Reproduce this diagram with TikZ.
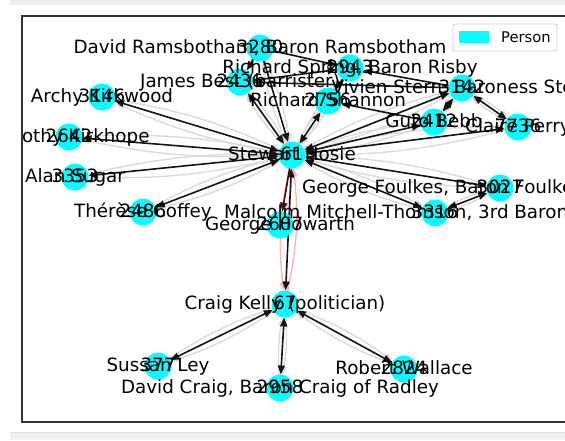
\documentclass[tikz,border=0pt]{standalone}
\usepackage{fontspec}
\setmainfont{DejaVu Sans}
\usetikzlibrary{arrows.meta}
\definecolor{nodecyan}{RGB}{0,255,255}
\definecolor{darkred}{RGB}{70,10,10}
\pgfdeclarelayer{bg}
\pgfdeclarelayer{edges}
\pgfsetlayers{bg,edges,main}
\begin{document}
\begin{tikzpicture}[x=1pt,y=-1pt,
  person/.style={circle,fill=nodecyan,minimum size=27pt,inner sep=0pt,outer sep=0pt},
  lbl/.style={font=\fontsize{18.3}{20}\selectfont,inner sep=0pt,text height=13.5pt,text depth=3.5pt,anchor=center},
  bb/.style={draw=black!92,line width=1.6pt,{Triangle[length=9pt,width=7pt]}-{Triangle[length=9pt,width=7pt]}},
  b1/.style={draw=black!92,line width=1.6pt,-{Triangle[length=9pt,width=7pt]}},
  gr/.style={draw=black!14,line width=1.4pt,-{Triangle[length=8pt,width=6pt]}},
  pk/.style={draw=red!30,line width=1.3pt,-{Triangle[length=8pt,width=6pt]}}]
\useasboundingbox (0,0) rectangle (565,440);
\begin{pgfonlayer}{bg}
\fill[white] (0,0) rectangle (565,440);
\fill[black!6] (10,0) rectangle (565,5);
\fill[black!6] (10,433) rectangle (565,440);
\draw[black!12,line width=0.8pt] (10,432.5) -- (565,432.5);
\end{pgfonlayer}
% nodes
\node[person] (n61) at (292,155) {};
\node[person] (n3280) at (260,48) {};
\node[person] (n2943) at (350,68) {};
\node[person] (n2436) at (240,82) {};
\node[person] (n2756) at (328,101) {};
\node[person] (n3142) at (462,88) {};
\node[person] (n2412) at (434,122) {};
\node[person] (n7736) at (518,127) {};
\node[person] (n3146) at (102,97) {};
\node[person] (n2642) at (69,137) {};
\node[person] (n3353) at (75,177) {};
\node[person] (n2486) at (143,212) {};
\node[person] (n2607) at (280,225) {};
\node[person] (n3316) at (435,213) {};
\node[person] (n3027) at (500,188) {};
\node[person] (n67) at (285,304) {};
\node[person] (n377) at (158,366) {};
\node[person] (n2958) at (280,388) {};
\node[person] (n2824) at (404,369) {};
% edges
\begin{pgfonlayer}{edges}
\foreach \a/\b in {61/3146,61/2642,61/3353,61/2486,61/2436,61/2756,61/3142,61/2412,61/7736,61/3027,61/3316,67/377,67/2958,67/2824,3316/3027,3142/7736,3142/2412,61/3280,61/2943}{
  \draw[gr] (n\a) to[bend left=7] (n\b);
  \draw[gr] (n\b) to[bend left=7] (n\a);
}
\draw[gr] (n61) to[bend left=10] (n2607);
\draw[pk] (n61) to[bend right=9] (n67);
\draw[pk] (n67) to[bend right=9] (n61);
\foreach \a/\b in {61/3146,61/2642,61/3353,61/2486,61/2436,61/2756,61/3142,61/2412,61/7736,61/3027,61/3316,61/67,67/377,67/2958,67/2824,3316/3027,3142/7736,3142/2412}{
  \draw[bb] (n\a) -- (n\b);
}
\foreach \a/\b in {3280/61,3142/2943,3280/2943,2436/2943,2943/2756,2412/2756,3142/2436,3280/2436}{
  \draw[b1] (n\a) -- (n\b);
}
\draw[b1,draw=darkred] (n61) -- (n2607);
\end{pgfonlayer}
% frame
\draw[black!80,line width=1.3pt] (22,16) rectangle (585,422);
% labels
\begin{scope}
\clip (22,16) rectangle (585,422);
\foreach \n/\t in {61/Stewart Hosie,3280/{David Ramsbotham, Baron Ramsbotham},2943/{Richard Spring, Baron Risby},2436/James Best (barrister),2756/Richard Shannon,3142/{Vivien Stern, Baroness Stern},2412/Guto Bebb,7736/Claire Perry,3146/Archy Kirkwood,2642/Timothy Kirkhope,3353/Alan Sugar,2486/Thérèse Coffey,2607/George Howarth,3316/{Malcolm Mitchell-Thomson, 3rd Baron Selsdon},3027/{George Foulkes, Baron Foulkes of Cumnock},67/Craig Kelly (politician),377/Sussan Ley,2958/{David Craig, Baron Craig of Radley},2824/Robert Wallace}{
  \node[lbl] (t\n) at (n\n) {\t};
  \node[lbl] (i\n) at (n\n) {\n};
}
\end{scope}
% legend
\draw[black!20,fill=white,rounded corners=2pt,line width=0.8pt] (453,24) rectangle (557,51);
\node[fill=nodecyan,minimum width=30pt,minimum height=12pt,inner sep=0pt] (lp) at (474,37) {};
\node[font=\fontsize{14.7}{16}\selectfont,anchor=west,inner sep=0pt] (lt) at (501,37) {Person};
\end{tikzpicture}
\end{document}
